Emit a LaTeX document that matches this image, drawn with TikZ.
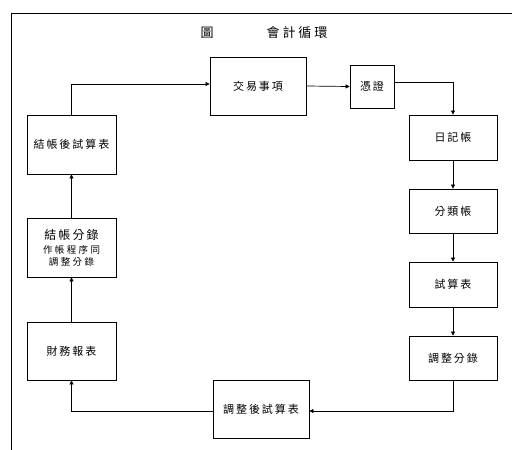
\documentclass[tikz,border=0pt]{standalone}
\usepackage{fontspec}
\newfontfamily\cjk[LetterSpace=18]{Noto Sans CJK TC}
\newfontfamily\cjks[LetterSpace=25]{Noto Sans CJK TC}
\newfontfamily\cjkt[LetterSpace=22]{Noto Sans CJK TC}
\usetikzlibrary{arrows.meta}
\begin{document}
\begin{tikzpicture}[x=1pt,y=-1pt,
  box/.style={draw, line width=0.8pt, inner sep=0pt, align=center,
    font=\cjk\fontsize{11}{13}\selectfont},
  arr/.style={line width=0.7pt, -{Triangle[length=4pt,width=4pt]}},
  frame/.style={line width=0.9pt}]
\useasboundingbox (0,0) rectangle (520,450);
\fill[white] (0,0) rectangle (520,450);
% frame
\coordinate (f1) at (512,13);
\coordinate (f2) at (11,13);
\coordinate (f3) at (11,450);
\draw[frame] (f1) -- (f2) -- (f3);
% title
\node[font=\cjkt\fontsize{13}{15}\selectfont] (t1) at (207,33) {圖};
\node[font=\cjkt\fontsize{13}{15}\selectfont] (t2) at (297,33) {會計循環};
% boxes
\node[box, minimum width=96pt, minimum height=58pt] (tx) at (258,86) {交易事項};
\node[box, minimum width=44pt, minimum height=43pt] (pz) at (372,86.5) {憑證};
\node[box, minimum width=88pt, minimum height=45pt] (rj) at (453,137.5) {日記帳};
\node[box, minimum width=88pt, minimum height=44pt] (fl) at (453,211) {分類帳};
\node[box, minimum width=88pt, minimum height=45pt] (ss) at (453,284.5) {試算表};
\node[box, minimum width=88pt, minimum height=44pt] (tz) at (453,358) {調整分錄};
\node[box, minimum width=96pt, minimum height=58pt] (th) at (261,409) {調整後試算表};
\node[box, minimum width=89pt, minimum height=58pt] (cw) at (71.5,351) {財務報表};
\node[box, minimum width=89pt, minimum height=59pt] (jz) at (71.5,247.5)
  {{\fontsize{12}{15}\selectfont 結帳分錄}\\[1pt]
   {\cjks\fontsize{9.5}{13}\selectfont 作帳程序同}\\[-1pt]
   {\cjks\fontsize{9.5}{13}\selectfont 調整分錄}};
\node[box, minimum width=89pt, minimum height=59pt] (jh) at (71.5,144.5) {結帳後試算表};
% connectors
\draw[arr] (jh.north) |- ([yshift=2pt]tx.west);
\draw[arr] (tx.east) -- (pz.west);
\draw[arr] ([yshift=4pt]pz.east) -| (rj.north);
\draw[arr] (rj) -- (fl);
\draw[arr] (fl) -- (ss);
\draw[arr] (ss) -- (tz);
\draw[arr] (tz.south) |- ([yshift=-2pt]th.east);
\draw[arr] ([yshift=-2pt]th.west) -| (cw.south);
\draw[arr] (cw) -- (jz);
\draw[arr] (jz) -- (jh);
\end{tikzpicture}
\end{document}
